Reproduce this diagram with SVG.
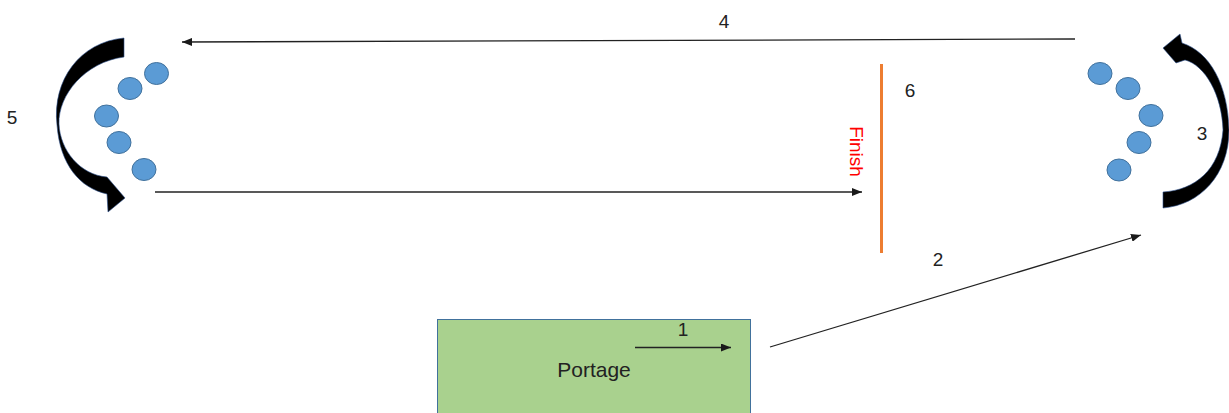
<svg xmlns="http://www.w3.org/2000/svg" width="1229" height="413" viewBox="0 0 1229 413">
<defs>
<marker id="ah" viewBox="0 0 10 8" refX="10" refY="4" markerWidth="10" markerHeight="8" markerUnits="userSpaceOnUse" orient="auto">
<path d="M0,0 L10,4 L0,8 Z" fill="#1a1a1a"/>
</marker>
</defs>
<style>
.lbl{font-family:"Liberation Sans",Arial,sans-serif;font-size:19px;fill:#222;text-anchor:middle}
.dot{fill:#5B9BD5;stroke:#41719C;stroke-width:1}
.conn{stroke:#222;stroke-width:1.3;fill:none;marker-end:url(#ah)}
.bigarrow{fill:#000;stroke:#2F528F;stroke-width:0.6}
</style>
<rect width="1229" height="413" fill="#fff"/>

<g id="portage">
<rect x="437.5" y="319.5" width="313" height="110" fill="#A9D18E" stroke="#41719C" stroke-width="1"/>
<text x="594" y="377" class="lbl" style="font-size:21px">Portage</text>
</g>

<g id="finish">
<line x1="881.5" y1="64" x2="881.5" y2="253" stroke="#ED7D31" stroke-width="3"/>
<text transform="translate(850,151.5) rotate(90)" x="0" y="0" class="lbl" style="fill:#FF0000">Finish</text>
</g>

<g id="left-group">
<ellipse class="dot" cx="156.5" cy="73.5" rx="12" ry="11"/>
<ellipse class="dot" cx="130" cy="88.5" rx="12" ry="11"/>
<ellipse class="dot" cx="106.5" cy="116" rx="12" ry="11"/>
<ellipse class="dot" cx="119" cy="142.5" rx="12" ry="11"/>
<ellipse class="dot" cx="144" cy="169.5" rx="12" ry="11"/>
<path class="bigarrow" d="M124,38 C80,42 52,80 57,125 C60,165 80,188 107,194 L108,212 L125,198 L107,177 C80,175 60,150 59,124 C58,95 85,62 124,57 Z"/>
</g>

<g id="right-group">
<ellipse class="dot" cx="1100" cy="73.5" rx="12" ry="11"/>
<ellipse class="dot" cx="1128" cy="88.5" rx="12" ry="11"/>
<ellipse class="dot" cx="1151" cy="115.5" rx="12" ry="11"/>
<ellipse class="dot" cx="1139" cy="142.5" rx="12" ry="11"/>
<ellipse class="dot" cx="1119" cy="170" rx="12" ry="11"/>
<path class="bigarrow" d="M1163,48 L1180,34 L1182,43 C1210,52 1228,85 1229,130 C1229,175 1200,205 1163,208 L1163,192 C1195,190 1220,170 1223,130 C1222,95 1205,65 1185,60 L1176,63 Z"/>
</g>

<g id="connectors">
<line class="conn" x1="635" y1="347.5" x2="731" y2="347.5"/>
<line class="conn" x1="770" y1="347" x2="1141" y2="235"/>
<line class="conn" x1="1075" y1="39" x2="182" y2="42"/>
<line class="conn" x1="155" y1="192" x2="862" y2="192"/>
</g>

<g id="labels">
<text x="683" y="336" class="lbl">1</text>
<text x="938" y="266" class="lbl">2</text>
<text x="1202" y="140" class="lbl">3</text>
<text x="724" y="28" class="lbl">4</text>
<text x="12" y="124" class="lbl">5</text>
<text x="910" y="97" class="lbl">6</text>
</g>
</svg>
